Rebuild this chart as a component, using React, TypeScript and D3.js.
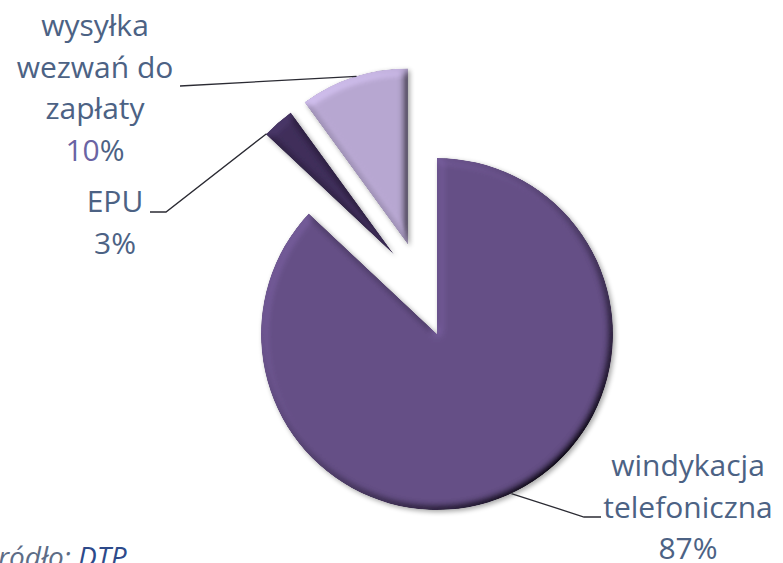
import React, { useEffect, useRef } from "react";
import * as d3 from "d3";

// ─── Data ─────────────────────────────────────────────────────────────────────
const CATEGORIES = ["windykacja telefoniczna", "EPU", "wysyłka wezwań do zapłaty"];
const SHARES = [87, 3, 10];
const LABEL_LINES = [["windykacja", "telefoniczna"], ["EPU"], ["wysyłka", "wezwań do", "zapłaty"]];
const PERCENT_LABELS = ["87%", "3%", "10%"];
const SOURCE_NOTE = "Źródło: ";
const SOURCE_NAME = "DTP";

// ─── Design tokens ────────────────────────────────────────────────────────────
const W = 783;
const H = 563;
const CX = 437;
const CY = 334;
const R = 176;
const FILLS = ["#654f86", "#3f2e5a", "#b7a7d1"];
const EXPLODE = [0, 90, 94]; // px pulled out from centre
const EXPLODE_TILT = [0, 13, 0]; // degrees, drift of the pull direction
const TEXT = "#4c6284";
const PCT_HI = "#6a64a3"; // the "10" in the top label is tinted purple
const LEADER = "#2b2b33";
const FONT = "'Open Sans', 'DejaVu Sans', sans-serif";
const FS = 30;
const LINE_GAP = 41.5;

// label layout: anchor angle on the slice's outer rim, elbow + label position
const LABEL_LAYOUT = [
  { rim: 155, elbow: [584, 517], end: [601, 517], x: 688, y: 476 },
  { rim: 313.5, elbow: [166, 212], end: [150, 212], x: 115, y: 212 },
  { rim: 343, elbow: [180, 86], end: [180, 86], x: 95, y: 36 },
];

const rad = (deg: number) => (deg * Math.PI) / 180;

export default function App() {
  const ref = useRef<SVGSVGElement>(null);

  useEffect(() => {
    const svg = d3.select(ref.current);
    svg.selectAll("*").remove();

    // ── Filters: soft shadow + bevel lighting ───────────────────────────────
    const defs = svg.append("defs");
    const f = defs
      .append("filter")
      .attr("id", "bevel")
      .attr("x", "-20%")
      .attr("y", "-20%")
      .attr("width", "140%")
      .attr("height", "140%");
    f.append("feGaussianBlur").attr("in", "SourceAlpha").attr("stdDeviation", 4).attr("result", "blur");
    const elev = 50;
    f.append("feDiffuseLighting")
      .attr("in", "blur")
      .attr("surfaceScale", 6)
      .attr("diffuseConstant", 1)
      .attr("lighting-color", "#fff")
      .attr("result", "light")
      .append("feDistantLight")
      .attr("azimuth", 225)
      .attr("elevation", elev);
    f.append("feComposite")
      .attr("in", "SourceGraphic")
      .attr("in2", "light")
      .attr("operator", "arithmetic")
      .attr("k1", 1 / Math.sin(rad(elev)))
      .attr("k2", 0)
      .attr("k3", 0)
      .attr("k4", 0)
      .attr("result", "lit");
    f.append("feComposite").attr("in", "lit").attr("in2", "SourceAlpha").attr("operator", "in").attr("result", "shape");
    f.append("feGaussianBlur").attr("in", "SourceAlpha").attr("stdDeviation", 2.5).attr("result", "sb");
    f.append("feOffset").attr("in", "sb").attr("dx", 2).attr("dy", 2).attr("result", "so");
    f.append("feComponentTransfer")
      .attr("in", "so")
      .attr("result", "shadow")
      .append("feFuncA")
      .attr("type", "linear")
      .attr("slope", 0.35);
    const merge = f.append("feMerge");
    merge.append("feMergeNode").attr("in", "shadow");
    merge.append("feMergeNode").attr("in", "shape");

    // ── Pie ────────────────────────────────────────────────────────────────
    const pie = d3
      .pie<number>()
      .sort(null)
      .value((d) => d);
    const arcs = pie(SHARES);
    const arc = d3.arc<d3.PieArcDatum<number>>().innerRadius(0).outerRadius(R);

    const centreOf = (i: number) => {
      const a = arcs[i];
      const mid = (a.startAngle + a.endAngle) / 2 + rad(EXPLODE_TILT[i]);
      return [CX + EXPLODE[i] * Math.sin(mid), CY - EXPLODE[i] * Math.cos(mid)];
    };

    const g = svg.append("g");
    arcs.forEach((a, i) => {
      const [x, y] = centreOf(i);
      g.append("path")
        .attr("transform", `translate(${x},${y})`)
        .attr("d", arc(a) as string)
        .attr("fill", FILLS[i])
        .attr("filter", "url(#bevel)");
    });

    // ── Leader lines + labels ────────────────────────────────────────────────
    const lbl = svg.append("g").attr("font-family", FONT).attr("font-size", FS);
    arcs.forEach((a, i) => {
      const L = LABEL_LAYOUT[i];
      const [x, y] = centreOf(i);
      const px = x + R * Math.sin(rad(L.rim));
      const py = y - R * Math.cos(rad(L.rim));
      lbl
        .append("path")
        .attr("d", d3.line()([[px, py], L.elbow as [number, number], L.end as [number, number]]))
        .attr("fill", "none")
        .attr("stroke", LEADER)
        .attr("stroke-width", 1.3);

      const lines = LABEL_LINES[i];
      const t = lbl.append("text").attr("text-anchor", "middle").attr("fill", TEXT);
      lines.forEach((s, k) => {
        t.append("tspan").attr("x", L.x).attr("y", L.y + k * LINE_GAP).text(s);
      });
      const pct = PERCENT_LABELS[i];
      const pt = t
        .append("tspan")
        .attr("x", L.x)
        .attr("y", L.y + lines.length * LINE_GAP);
      pt.append("tspan")
        .attr("fill", i === 2 ? PCT_HI : TEXT)
        .text(pct.replace("%", ""));
      pt.append("tspan").text("%");
    });

    // ── Source note (clipped at the left edge, as in the original) ───────────
    const src = svg
      .append("text")
      .attr("x", -17)
      .attr("y", 567)
      .attr("font-family", FONT)
      .attr("font-size", 28)
      .attr("font-style", "italic");
    src.append("tspan").attr("fill", "#5d6c86").text(SOURCE_NOTE);
    src.append("tspan").attr("fill", "#2d4a8a").text(SOURCE_NAME);

    svg.append("title").text(CATEGORIES.join(", "));
  }, []);

  return (
    <svg
      ref={ref}
      width={W}
      height={H}
      style={{ position: "absolute", left: 0, top: 0, background: "#fff" }}
    />
  );
}
